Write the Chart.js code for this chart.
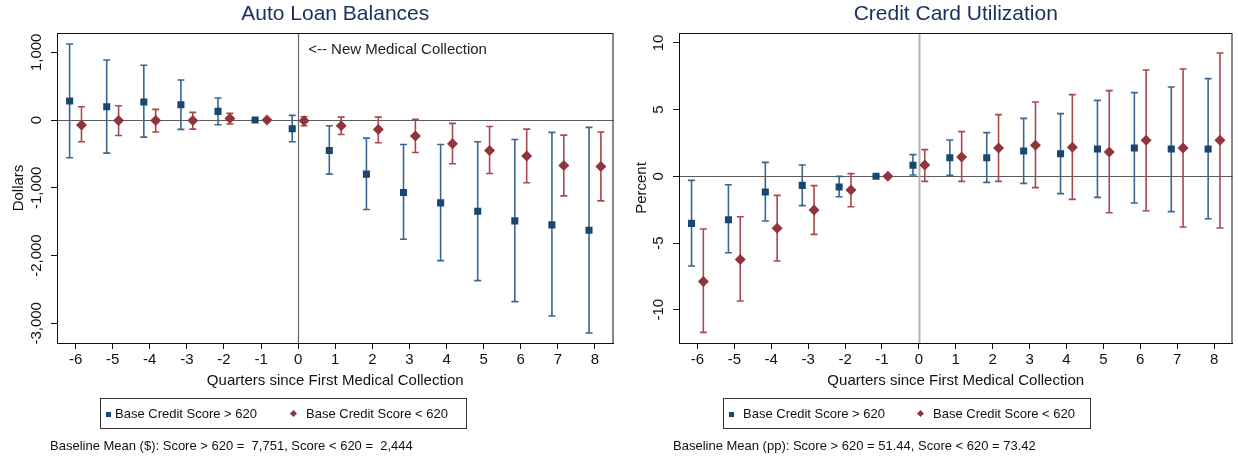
<!DOCTYPE html>
<html>
<head>
<meta charset="utf-8">
<script src="https://cdn.jsdelivr.net/npm/chart.js@4.4.1/dist/chart.umd.min.js"></script>
<style>
  body { margin: 0; background: #fff; font-family: "Liberation Sans", Arial, sans-serif; color: #111; }
  #wrap { position: relative; width: 1238px; height: 458px; overflow: hidden; }
  .panel { position: absolute; top: 0; width: 619px; height: 458px; }
  .legend { position: absolute; top: 398px; height: 31px; border: 1px solid #333; box-sizing: border-box; font-size: 13px; }
  .legend span { position: absolute; top: 7px; white-space: nowrap; }
  .sq { position: absolute; top: 13px; width: 5px; height: 5px; background: #1a476f; }
  .dm { position: absolute; top: 12px; width: 5px; height: 5px; background: #90353b; transform: rotate(45deg); }
  .note { position: absolute; top: 438px; font-size: 13px; white-space: nowrap; }
</style>
</head>
<body>
<div id="wrap">
  <div class="panel" style="left:0"><canvas id="autoLoan" width="619" height="458"></canvas></div>
  <div class="panel" style="left:619px"><canvas id="ccUtil" width="619" height="458"></canvas></div>

  <div class="legend" style="left:100px;width:367px">
    <div class="sq" style="left:5px"></div><span style="left:14px">Base Credit Score &gt; 620</span>
    <div class="dm" style="left:190px"></div><span style="left:205px">Base Credit Score &lt; 620</span>
  </div>
  <div class="legend" style="left:723px;width:368px">
    <div class="sq" style="left:5px"></div><span style="left:19px">Base Credit Score &gt; 620</span>
    <div class="dm" style="left:194px"></div><span style="left:209px">Base Credit Score &lt; 620</span>
  </div>
  <div class="note" style="left:50px">Baseline Mean ($): Score &gt; 620 =&nbsp; 7,751, Score &lt; 620 =&nbsp; 2,444</div>
  <div class="note" style="left:673px">Baseline Mean (pp): Score &gt; 620 = 51.44, Score &lt; 620 = 73.42</div>
</div>

<script>
const quarters = [-6, -5, -4, -3, -2, -1, 0, 1, 2, 3, 4, 5, 6, 7, 8];

// Auto loan balances (dollars), score > 620
const autoAboveEst = [281, 197, 266, 227, 128, 0, -128, -448, -798, -1069, -1222, -1345, -1488, -1547, -1626];
const autoAboveLo  = [-557, -488, -251, -138, -69, 0, -320, -798, -1320, -1759, -2074, -2369, -2680, -2892, -3143];
const autoAboveHi  = [1123, 887, 808, 591, 325, 0, 69, -84, -266, -360, -360, -320, -286, -182, -108];
// score < 620
const autoBelowEst = [-74, -5, -5, -5, 25, 0, -10, -84, -138, -236, -350, -448, -532, -670, -685];
const autoBelowLo  = [-320, -227, -177, -133, -59, 0, -84, -212, -335, -478, -645, -788, -926, -1118, -1192];
const autoBelowHi  = [197, 212, 158, 113, 99, 0, 50, 44, 44, 10, -49, -94, -133, -222, -177];

// Credit card utilization (percent), score > 620
const ccAboveEst = [-3.53, -3.25, -1.18, -0.68, -0.8, 0, 0.83, 1.4, 1.4, 1.9, 1.7, 2.05, 2.13, 2.05, 2.05];
const ccAboveLo  = [-6.73, -5.73, -3.35, -2.2, -1.53, 0, 0.1, 0.08, -0.45, -0.53, -1.3, -1.58, -2.0, -2.65, -3.18];
const ccAboveHi  = [-0.3, -0.63, 1.05, 0.85, 0, 0, 1.63, 2.73, 3.28, 4.35, 4.7, 5.7, 6.28, 6.7, 7.33];
// score < 620
const ccBelowEst = [-7.88, -6.23, -3.9, -2.53, -1.03, 0, 0.85, 1.45, 2.13, 2.33, 2.18, 1.83, 2.7, 2.13, 2.7];
const ccBelowLo  = [-11.7, -9.35, -6.35, -4.35, -2.28, 0, -0.38, -0.38, -0.38, -0.85, -1.73, -2.73, -2.58, -3.8, -3.88];
const ccBelowHi  = [-3.95, -3.03, -1.43, -0.7, 0.2, 0, 2.0, 3.35, 4.63, 5.58, 6.13, 6.43, 7.98, 8.05, 9.25];

const autoTicks = [-3000, -2000, -1000, 0, 1000];
const ccTicks = [-10, -5, 0, 5, 10];

const FONT = '"Liberation Sans", Arial, sans-serif';
const NAVY = '#1a476f', MAROON = '#90353b';

// shift the two groups apart so the bars don't overlap
function points(shift, est, lo, hi) {
  return quarters.map((q, i) => ({ x: q + shift, y: est[i], lo: lo[i], hi: hi[i] }));
}

const errorBars = {
  id: 'errorBars',
  beforeDatasetsDraw(chart, args, opts) {
    const { ctx, chartArea: a, scales: { x, y } } = chart;
    ctx.save();
    // horizontal zero line
    const y0 = Math.round(y.getPixelForValue(0)) + 0.5;
    ctx.strokeStyle = '#5c5c5c';
    ctx.lineWidth = 1.2;
    ctx.beginPath(); ctx.moveTo(a.left, y0); ctx.lineTo(a.right, y0); ctx.stroke();
    // event line at quarter 0
    const x0 = Math.round(x.getPixelForValue(0)) + 0.5;
    ctx.strokeStyle = opts.eventColor;
    ctx.lineWidth = opts.eventWidth;
    ctx.beginPath(); ctx.moveTo(x0, a.top); ctx.lineTo(x0, a.bottom); ctx.stroke();

    chart.data.datasets.forEach(ds => {
      ctx.strokeStyle = ds.capColor;
      ctx.lineWidth = 1.6;
      ds.data.forEach(p => {
        const px = x.getPixelForValue(p.x);
        const top = y.getPixelForValue(p.hi), bot = y.getPixelForValue(p.lo);
        ctx.beginPath();
        ctx.moveTo(px, top); ctx.lineTo(px, bot);
        ctx.moveTo(px - 3.5, top); ctx.lineTo(px + 3.5, top);
        ctx.moveTo(px - 3.5, bot); ctx.lineTo(px + 3.5, bot);
        ctx.stroke();
      });
    });
    ctx.restore();
  },
  afterDraw(chart, args, opts) {
    const { ctx, chartArea: a, scales: { y } } = chart;
    ctx.save();
    ctx.strokeStyle = '#111';
    ctx.lineWidth = 1;
    ctx.strokeRect(a.left + 0.5, a.top + 0.5, a.right - a.left - 1, a.bottom - a.top);
    // y tick labels read bottom-to-top
    ctx.fillStyle = '#111';
    ctx.font = '15px ' + FONT;
    ctx.textAlign = 'center';
    ctx.textBaseline = 'middle';
    y.ticks.forEach(t => {
      ctx.save();
      ctx.translate(a.left - 20, y.getPixelForValue(t.value));
      ctx.rotate(-Math.PI / 2);
      ctx.fillText(t.value.toLocaleString('en-US'), 0, 0);
      ctx.restore();
    });
    if (opts.note) {
      ctx.textAlign = 'left';
      ctx.fillStyle = '#222';
      ctx.fillText(opts.note, chart.scales.x.getPixelForValue(0) + 10, a.top + 17);
    }
    ctx.restore();
  }
};

function makeChart(id, cfg) {
  return new Chart(document.getElementById(id), {
    type: 'scatter',
    data: {
      datasets: [
        {
          label: 'Base Credit Score > 620',
          data: points(-0.16, cfg.above[0], cfg.above[1], cfg.above[2]),
          pointStyle: 'rect', pointRadius: 5, backgroundColor: NAVY, borderColor: NAVY, borderWidth: 0,
          capColor: '#3a6690'
        },
        {
          label: 'Base Credit Score < 620',
          data: points(0.16, cfg.below[0], cfg.below[1], cfg.below[2]),
          pointStyle: 'rectRot', pointRadius: 5.5, backgroundColor: MAROON, borderColor: MAROON, borderWidth: 0,
          capColor: '#a8484f'
        }
      ]
    },
    options: {
      responsive: false,
      animation: false,
      devicePixelRatio: 1,
      layout: { padding: { left: 0, right: cfg.padRight, top: 0, bottom: 67 } },
      plugins: {
        legend: { display: false },
        tooltip: { enabled: false },
        title: {
          display: true,
          text: cfg.title,
          fullSize: false,
          color: '#1c3060',
          font: { family: FONT, size: 21, weight: 'normal' },
          padding: { top: 2, bottom: 5.8 }
        },
        errorBars: { eventColor: cfg.eventColor, eventWidth: cfg.eventWidth, note: cfg.note }
      },
      scales: {
        x: {
          type: 'linear',
          min: -6.5, max: 8.5,
          afterBuildTicks: s => { s.ticks = quarters.map(v => ({ value: v })); },
          afterFit: s => { s.height = 48; },
          grid: { drawOnChartArea: false, tickLength: 6, color: '#111' },
          border: { display: true, color: '#111' },
          ticks: { color: '#111', font: { family: FONT, size: 15 }, padding: 2, maxRotation: 0 },
          title: {
            display: true, text: 'Quarters since First Medical Collection', color: '#111',
            font: { family: FONT, size: 15 }, padding: { top: 0, bottom: 1.5 }
          }
        },
        y: {
          min: cfg.yMin, max: cfg.yMax,
          afterBuildTicks: s => { s.ticks = cfg.yTicks.map(v => ({ value: v })); },
          afterFit: s => { s.width = cfg.yWidth; },
          grid: { drawOnChartArea: false, tickLength: 6, color: '#111' },
          border: { display: true, color: '#111' },
          ticks: { display: false },
          title: {
            display: true, text: cfg.yTitle, color: '#111',
            font: { family: FONT, size: 15 }, padding: { top: cfg.yTitlePad, bottom: 0 }
          }
        }
      }
    },
    plugins: [errorBars]
  });
}

makeChart('autoLoan', {
  title: 'Auto Loan Balances',
  yTitle: 'Dollars',
  above: [autoAboveEst, autoAboveLo, autoAboveHi],
  below: [autoBelowEst, autoBelowLo, autoBelowHi],
  yMin: -3290, yMax: 1285, yTicks: autoTicks,
  yWidth: 57, yTitlePad: 10, padRight: 3,
  eventColor: '#666', eventWidth: 1.2,
  note: '<-- New Medical Collection'
});

makeChart('ccUtil', {
  title: 'Credit Card Utilization',
  yTitle: 'Percent',
  above: [ccAboveEst, ccAboveLo, ccAboveHi],
  below: [ccBelowEst, ccBelowLo, ccBelowHi],
  yMin: -12.5, yMax: 10.75, yTicks: ccTicks,
  yWidth: 60, yTitlePad: 14, padRight: 0,
  eventColor: '#b4b4b4', eventWidth: 2,
  note: null
});
</script>
</body>
</html>
